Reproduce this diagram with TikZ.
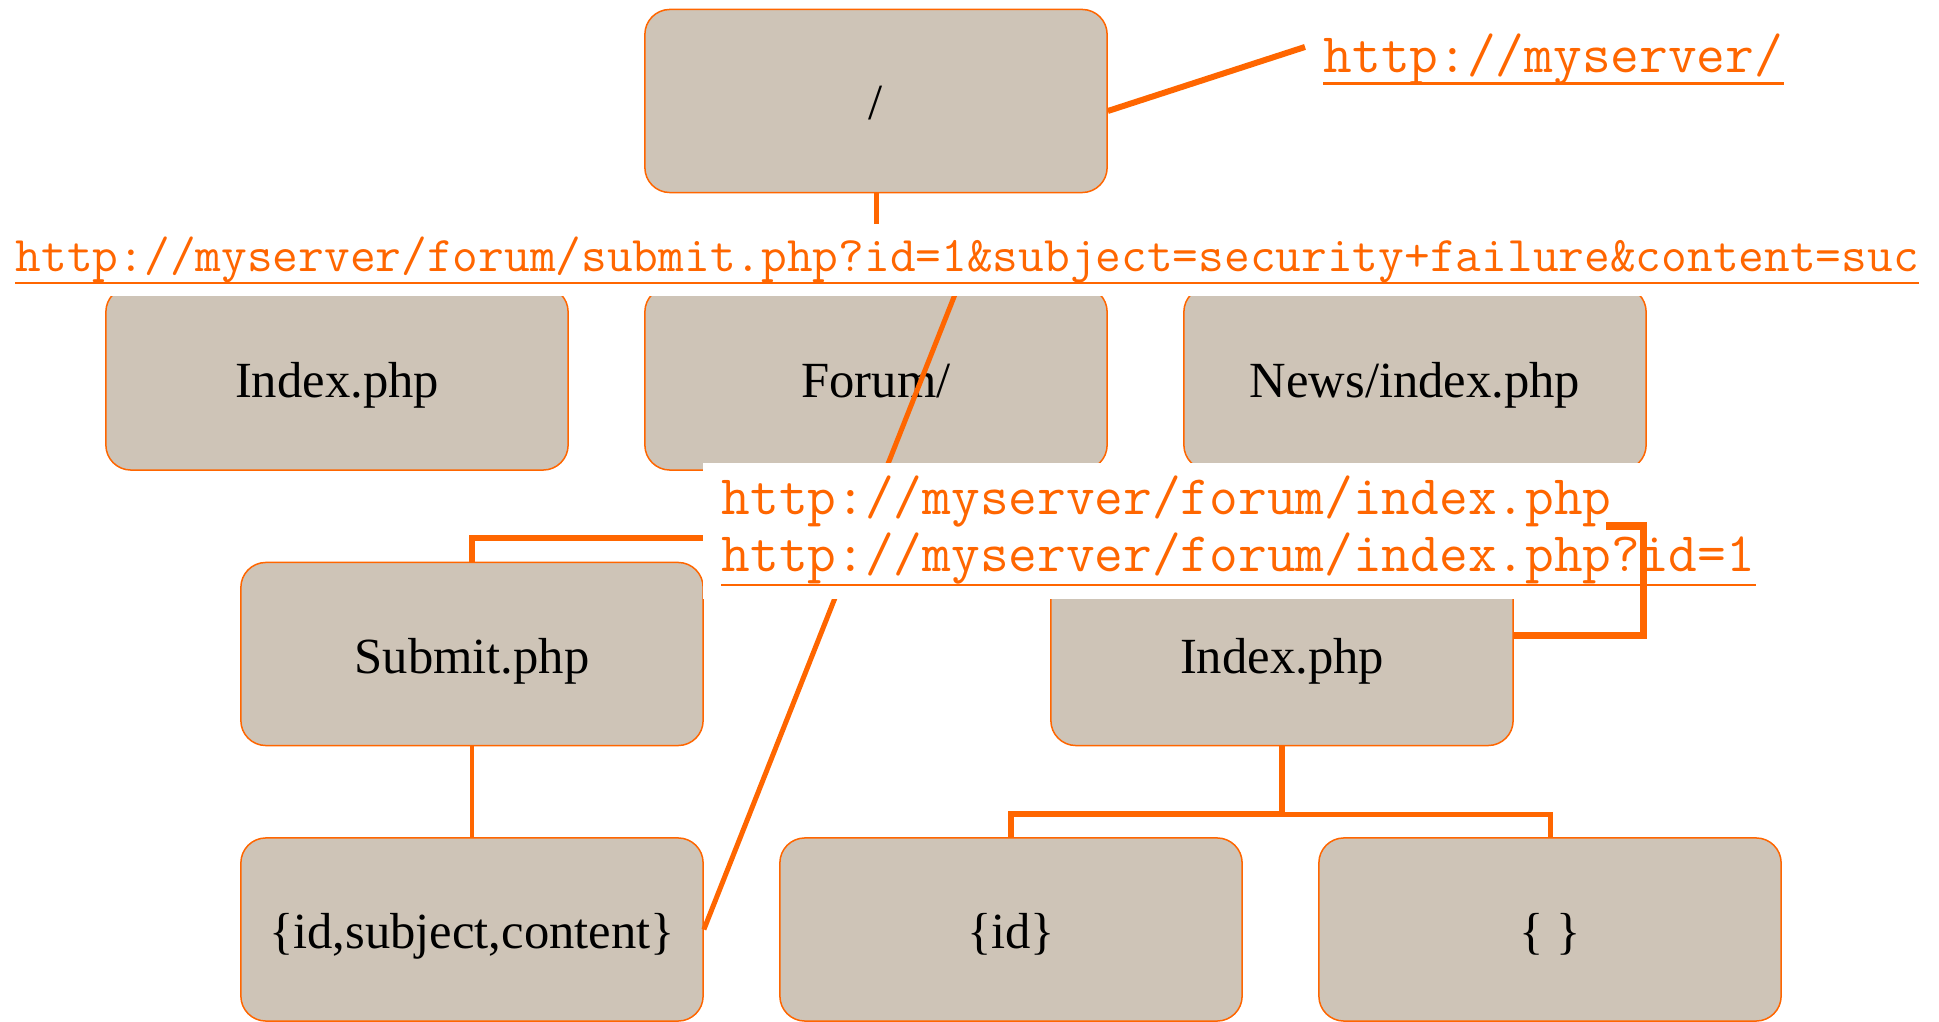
\documentclass[tikz,border=0pt]{standalone}
\usepackage{fontspec}
\setmainfont{Liberation Serif}
\definecolor{webOrange}{HTML}{FF6600}
\definecolor{boxTan}{HTML}{CEC4B7}
\tikzset{
  webbox/.style={draw=webOrange, line width=0.015cm, fill=boxTan, rounded corners=0.25cm,
    minimum width=4.62cm, minimum height=1.83cm, inner sep=0pt,
    text height=0.45cm, text depth=0.07cm,
    font=\fontsize{14.4}{17}\selectfont},
  urltext/.style={text=webOrange, inner sep=0pt, anchor=base west,
    font=\ttfamily\fontsize{15.85}{18}\selectfont},
  wire/.style={draw=webOrange, line width=0.05cm},
  uline/.style={draw=webOrange, line width=0.025cm}
}
\begin{document}
\begin{tikzpicture}[x=0.01cm, y=-0.01cm]
    % 範囲
    \useasboundingbox (0,0) rectangle (1939,1022);

    % ページのノード
    \node[webbox] (root) at (876,101) {/};
    \node[webbox] (topindex) at (337,378.5) {Index.php};
    \node[webbox] (forum) at (876,378.5) {Forum/};
    \node[webbox] (news) at (1415,378.5) {News/index.php};
    \node[webbox] (submit) at (472,654) {Submit.php};
    \node[webbox] (forumindex) at (1282,654) {Index.php};
    \node[webbox] (allparams) at (472,929.5) {\{id,subject,content\}};
    \node[webbox] (idparam) at (1011,929.5) {\{id\}};
    \node[webbox] (noparam) at (1550,929.5) {\{ \}};

    % 木の接続線
    \draw[wire] (root.south) -- ++(0,60) -| (topindex.north);
    \draw[wire] (root.south) -- ++(0,60) -| (news.north);
    \draw[wire] (root) -- (forum);
    \draw[wire, line width=0.06cm] (forum.south) -- ++(0,67) -| (submit.north);
    \draw[wire, line width=0.06cm] (forum.south) -- ++(0,67) -| (forumindex.north);
    \draw[wire, line width=0.04cm] (submit) -- (allparams);
    \draw[wire, line width=0.06cm] (forumindex.south) -- ++(0,68) -| (idparam.north);
    \draw[wire] (forumindex.south) -- ++(0,68) -| (noparam.north);

    % submit.php の URL
    \coordinate (subtip) at (959.5,283);
    \draw[wire] (allparams.east) -- (subtip);
    \node[urltext, fill=white, text height=0.48cm, text depth=0.24cm,
      font=\ttfamily\fontsize{14.2}{16}\selectfont] (submiturl) at (15,272)
      {http://myserver/forum/submit.php?id=1\&subject=security+failure\&content=suc};
    \draw[uline] ([yshift=-0.11cm]submiturl.base west) -- ([yshift=-0.11cm]submiturl.base east);

    % ルートの URL
    \node[urltext] (rooturl) at (1323,73) {http://myserver/};
    \draw[uline] ([yshift=-0.105cm]rooturl.base west) -- ([yshift=-0.105cm]rooturl.base east);
    \draw[wire, line width=0.06cm] ([yshift=-0.1cm]root.east) -- ([xshift=-0.18cm,yshift=0.26cm]rooturl.base west);

    % forum/index.php の URL
    \node[fill=white, inner sep=0pt, anchor=north west, minimum width=9.38cm,
      minimum height=1.36cm] (forumurlbox) at (702,462) {};
    \node[urltext] (forumurl) at (721,515) {http://myserver/forum/index.php};
    \node[urltext] (forumidurl) at (721,572) {http://myserver/forum/index.php?id=1};
    \draw[uline] ([yshift=-0.13cm]forumidurl.base west) -- ([yshift=-0.13cm]forumidurl.base east);
    \draw[wire, line width=0.07cm] ([yshift=0.18cm]forumindex.east) -- ++(130,0)
      |- ([xshift=-0.06cm,yshift=-0.11cm]forumurl.base east);
\end{tikzpicture}
\end{document}
